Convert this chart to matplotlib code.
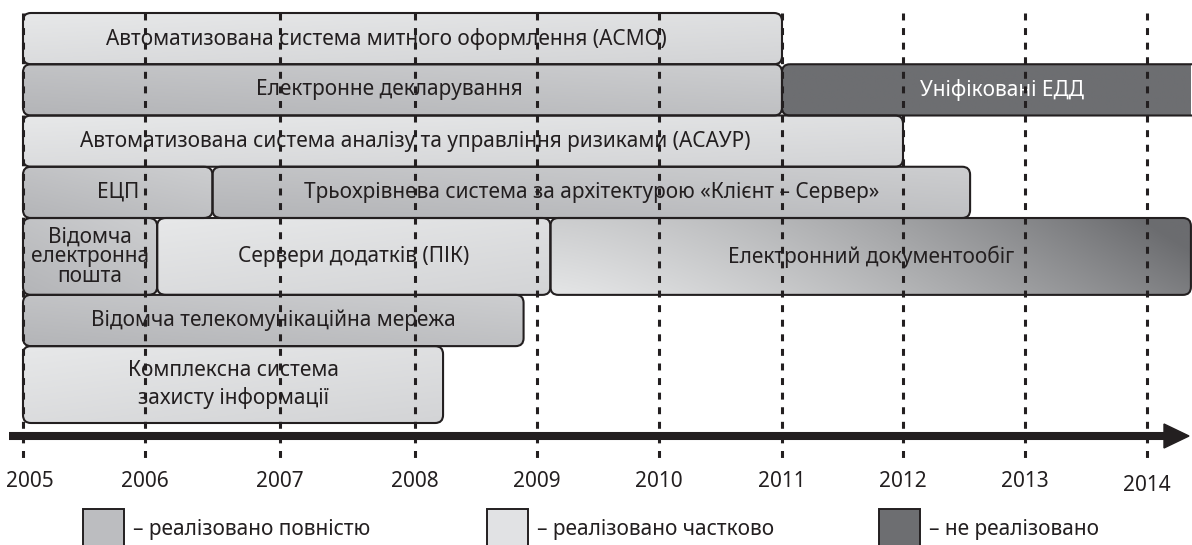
import numpy as np
import matplotlib
matplotlib.use('Agg')
import matplotlib.pyplot as plt
from matplotlib.patches import FancyBboxPatch, Rectangle, Polygon
from matplotlib.colors import to_rgb

plt.rcParams['font.family'] = ['Noto Sans', 'DejaVu Sans']
plt.rcParams['lines.scale_dashes'] = False

years = [2005, 2006, 2007, 2008, 2009, 2010, 2011, 2012, 2013, 2014]

# row heights, top to bottom (1.5 = row with two/three text lines)
row_height = [1, 1, 1, 1, 1.5, 1, 1.5]

tasks = ['Автоматизована система митного оформлення (АСМО)',
         'Електронне декларування',
         'Уніфіковані ЕДД',
         'Автоматизована система аналізу та управління ризиками (АСАУР)',
         'ЕЦП',
         'Трьохрівнева система за архітектурою «Клієнт – Сервер»',
         'Відомча\nелектронна\nпошта',
         'Сервери додатків (ПІК)',
         'Електронний документообіг',
         'Відомча телекомунікаційна мережа',
         'Комплексна система\nзахисту інформації']
task_row = [0, 1, 1, 2, 3, 3, 4, 4, 4, 5, 6]
start = [2005, 2005, 2011, 2005, 2005, 2006.5, 2005, 2006.09, 2009.11, 2005, 2005]
end = [2011, 2011, 2014.6, 2012, 2006.5, 2012.55, 2006.09, 2009.11, 2014.36, 2008.89, 2008.23]
status = ['part', 'full', 'none', 'part', 'full', 'full', 'full', 'part', 'mixed', 'full', 'part']
label_at = [2007.79, 2007.81, 2012.81, 2008.0, None, None, None, None, None, None, None]

legend_status = ['full', 'part', 'none']
legend_text = ['– реалізовано повністю', '– реалізовано частково', '– не реалізовано']

fills = {'full': ('#cdced0', '#b4b5b8'),
         'part': ('#e7e8e9', '#d3d4d6'),
         'none': ('#6d6e71', '#6d6e71'),
         'mixed': ('#e4e5e6', '#6b6c6f')}
box_col = {'full': '#bcbdc0', 'part': '#e1e2e4', 'none': '#6d6e71'}
ink = '#231f20'

# timeline is not evenly spaced in the source, map years -> pixels
tick_px = [23, 145, 280, 415, 537, 659, 782, 903, 1025, 1147]
yr_ext = [2004] + years + [2015]
px_ext = [tick_px[0] - 123] + tick_px + [tick_px[-1] + 122]
fwd = lambda v: np.interp(v, yr_ext, px_ext)
inv = lambda p: np.interp(p, px_ext, yr_ext)

U = 51.25      # px per row unit
TOP = 13       # px of first row top

fig = plt.figure(figsize=(11.92, 5.45), dpi=100)
ax = fig.add_axes([0, 0, 1, 1])
ax.set_xscale('function', functions=(fwd, inv))
ax.axis('off')

row_top = np.concatenate([[0], np.cumsum(row_height)[:-1]])

for i, name in enumerate(tasks):
    r = task_row[i]
    y0, h = row_top[r], row_height[r]
    x0, x1 = start[i], end[i]
    patch = FancyBboxPatch((x0, y0), x1 - x0, h,
                           boxstyle='round,pad=0,rounding_size=0.065',
                           mutation_aspect=2.4, fc='none', ec=ink, lw=1.5, zorder=3)
    ax.add_patch(patch)
    ca, cb = np.array(to_rgb(fills[status[i]][0])), np.array(to_rgb(fills[status[i]][1]))
    u, v = np.meshgrid(np.linspace(0, 1, 200), np.linspace(0, 1, 40))
    if status[i] == 'mixed':
        t = 0.85 * u ** 1.3 + 0.25 * (1 - v) * u + 0.2 * (1 - v) * (1 - u) ** 2
    elif status[i] == 'full':
        t = 0.55 * v + 0.45 * (1 - u)
    else:
        t = 0.6 * v + 0.4 * u
    t = np.clip(t, 0, 1)[..., None]
    img = ca * (1 - t) + cb * t
    im = ax.imshow(img, extent=(x0, x1, y0 + h, y0), origin='upper',
                   aspect='auto', interpolation='bilinear', zorder=2)
    im.set_clip_path(patch)
    xc = label_at[i] if label_at[i] is not None else inv((fwd(x0) + fwd(min(x1, inv(1192)))) / 2)
    ls = 0.92 if name.count('\n') == 2 else 1.35
    ax.text(xc, y0 + h / 2, name, ha='center', va='center', fontsize=15,
            color='white' if status[i] == 'none' else ink,
            linespacing=ls, zorder=3.5)

# dashed year lines
y_axis = (436 - TOP) / U
ax.vlines(years, 0, (458 - TOP) / U, colors=ink, linestyles=(0, (5, 5.5)), lw=2.2, zorder=4)

# timeline arrow
ax.plot([inv(9), inv(1166)], [y_axis, y_axis], color=ink, lw=5.8, solid_capstyle='butt', zorder=4)
ax.add_patch(Polygon([(inv(1164), y_axis - 12 / U), (inv(1189), y_axis), (inv(1164), y_axis + 12 / U)],
                     closed=True, color=ink, zorder=4))

for yr in years:
    xl = inv(fwd(yr) + 7) if yr == 2005 else yr
    ax.text(xl, (482 - TOP) / U + (0.06 if yr == 2014 else 0), str(yr), ha='center', va='center',
            fontsize=15, color=ink)

# legend
for k, (st, lab) in enumerate(zip(legend_status, legend_text)):
    bx = [83, 487, 879][k] / 1192
    ax.add_patch(Rectangle((bx, 1 - 551 / 545), 41 / 1192, 42 / 545, transform=ax.transAxes,
                           fc=box_col[st], ec=ink, lw=1.4, clip_on=False))
    ax.text(bx + 50 / 1192, 1 - 530 / 545, lab, transform=ax.transAxes, ha='left', va='center',
            fontsize=15, color=ink)

ax.set_xlim(inv(0), inv(1192))
ax.set_ylim((545 - TOP) / U, -TOP / U)

fig.savefig('out.png', dpi=100)
